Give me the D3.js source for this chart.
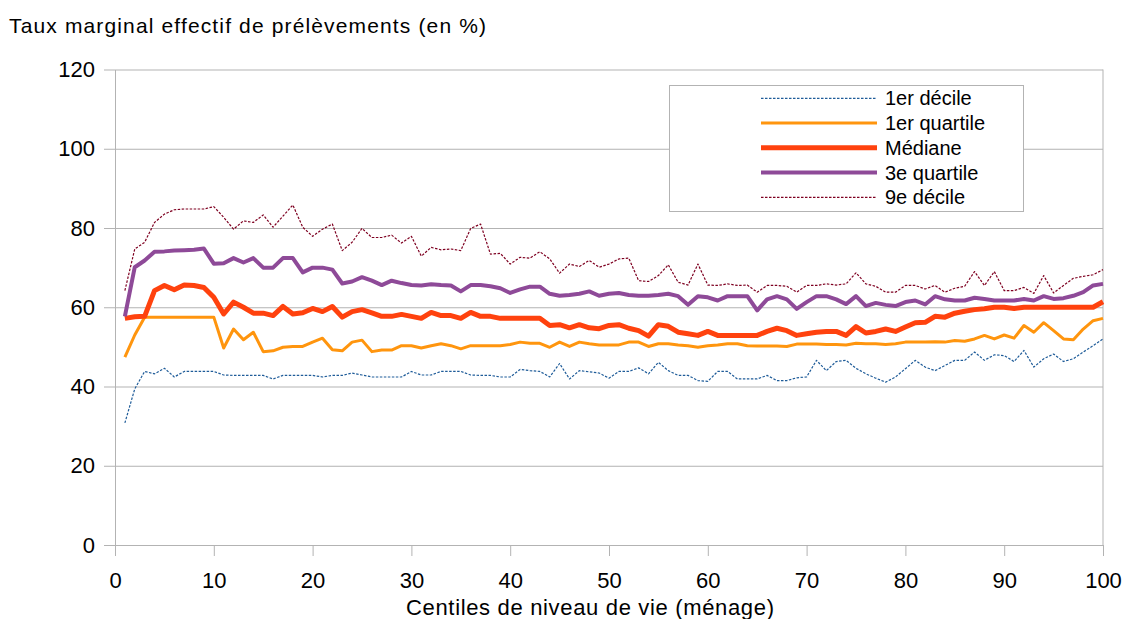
<!DOCTYPE html>
<html lang="fr">
<head>
<meta charset="utf-8">
<script src="https://cdn.jsdelivr.net/npm/d3@7"></script>
<style>
  html, body { margin: 0; padding: 0; background: #fff; }
  #viz { width: 1126px; height: 619px; }
  text { font-family: "Liberation Sans", Arial, sans-serif; fill: #000; }
</style>
</head>
<body>
<div id="viz"></div>
<script>
// Données (centiles 1 à 100)
const centiles = d3.range(1, 101);

const xTicks = [0, 10, 20, 30, 40, 50, 60, 70, 80, 90, 100];
const yTicks = [0, 20, 40, 60, 80, 100, 120];

const seriesNames = ["1er décile", "1er quartile", "Médiane", "3e quartile", "9e décile"];

const decile1 = [
  30.8, 39.4, 43.8, 43.2, 44.6, 42.4, 43.8, 43.8, 43.8, 43.8,
  42.9, 42.8, 42.8, 42.8, 42.8, 41.9, 42.8, 42.8, 42.8, 42.8,
  42.4, 42.8, 42.8, 43.4, 42.9, 42.4, 42.4, 42.4, 42.4, 43.8,
  42.9, 42.9, 43.8, 43.8, 43.8, 42.9, 42.8, 42.8, 42.4, 42.4,
  44.3, 44.0, 43.8, 42.4, 45.8, 41.9, 44.0, 43.7, 43.4, 42.1,
  43.8, 43.8, 44.7, 43.2, 46.1, 44.0, 42.8, 42.8, 41.5, 41.3,
  43.8, 43.8, 41.9, 41.9, 41.9, 42.8, 41.5, 41.5, 42.2, 42.4,
  46.6, 44.0, 46.3, 46.6, 44.6, 43.2, 42.1, 41.1, 42.4, 44.5,
  46.6, 44.9, 44.0, 45.3, 46.6, 46.6, 48.7, 46.6, 48.0, 47.8,
  46.3, 49.1, 44.9, 47.0, 48.2, 46.3, 47.0, 48.7, 50.3, 52.0
];

const quartile1 = [
  47.4, 53.0, 57.5, 57.5, 57.5, 57.5, 57.5, 57.5, 57.5, 57.5,
  49.7, 54.5, 51.8, 53.7, 48.8, 49.0, 49.9, 50.1, 50.1, 51.2,
  52.2, 49.3, 49.0, 51.2, 51.7, 48.8, 49.2, 49.2, 50.3, 50.3,
  49.7, 50.3, 50.8, 50.3, 49.5, 50.3, 50.3, 50.3, 50.3, 50.6,
  51.2, 50.9, 50.9, 49.9, 51.2, 50.1, 51.2, 50.8, 50.5, 50.5,
  50.5, 51.2, 51.2, 50.1, 50.8, 50.8, 50.5, 50.3, 49.9, 50.3,
  50.5, 50.8, 50.8, 50.3, 50.2, 50.2, 50.2, 50.1, 50.7, 50.7,
  50.7, 50.6, 50.6, 50.5, 50.9, 50.8, 50.8, 50.6, 50.8, 51.2,
  51.2, 51.2, 51.3, 51.2, 51.6, 51.4, 52.0, 52.9, 52.0, 53.0,
  52.2, 55.4, 53.7, 56.1, 54.1, 52.0, 51.8, 54.5, 56.6, 57.2
];

const mediane = [
  57.2, 57.6, 57.7, 64.2, 65.5, 64.4, 65.6, 65.5, 65.0, 62.5,
  58.3, 61.3, 60.0, 58.5, 58.5, 57.9, 60.2, 58.3, 58.6, 59.7,
  58.9, 60.2, 57.5, 58.9, 59.4, 58.6, 57.7, 57.7, 58.2, 57.7,
  57.2, 58.7, 57.9, 57.9, 57.2, 58.7, 57.7, 57.7, 57.2, 57.2,
  57.2, 57.2, 57.2, 55.4, 55.6, 54.8, 55.6, 54.8, 54.6, 55.4,
  55.6, 54.7, 54.1, 52.7, 55.6, 55.2, 53.7, 53.3, 52.9, 53.9,
  52.9, 52.9, 52.9, 52.9, 52.9, 53.9, 54.7, 54.1, 52.9, 53.3,
  53.7, 53.9, 53.9, 52.9, 55.1, 53.5, 53.9, 54.5, 53.9, 55.0,
  56.1, 56.2, 57.7, 57.5, 58.5, 59.0, 59.4, 59.6, 60.0, 60.0,
  59.7, 60.0, 60.0, 60.0, 60.0, 60.0, 60.0, 60.0, 60.0, 61.4
];

const quartile3 = [
  57.7, 70.1, 71.8, 74.0, 74.1, 74.3, 74.4, 74.5, 74.8, 71.0,
  71.1, 72.4, 71.3, 72.4, 70.0, 70.0, 72.4, 72.4, 68.8, 70.0,
  70.0, 69.5, 66.0, 66.5, 67.6, 66.7, 65.6, 66.7, 66.1, 65.6,
  65.5, 65.8, 65.6, 65.5, 64.0, 65.6, 65.6, 65.3, 64.8, 63.6,
  64.5, 65.2, 65.2, 63.4, 62.9, 63.1, 63.4, 64.0, 62.9, 63.4,
  63.6, 63.1, 62.9, 62.9, 63.1, 63.4, 62.8, 60.6, 62.8, 62.5,
  61.7, 62.8, 62.8, 62.8, 59.2, 62.0, 62.8, 62.0, 59.6, 61.3,
  62.8, 62.8, 62.0, 60.8, 62.8, 60.3, 61.1, 60.6, 60.3, 61.3,
  61.7, 60.7, 62.8, 62.0, 61.7, 61.7, 62.4, 62.1, 61.7, 61.7,
  61.7, 62.1, 61.7, 62.8, 62.1, 62.3, 62.9, 63.8, 65.5, 65.9
];

const decile9 = [
  64.2, 74.7, 76.4, 81.4, 83.5, 84.6, 84.8, 84.8, 84.8, 85.4,
  82.7, 79.7, 81.8, 81.4, 83.3, 80.2, 83.0, 85.8, 80.2, 77.9,
  79.7, 81.0, 74.3, 76.4, 79.9, 77.6, 77.6, 78.2, 76.2, 77.9,
  72.9, 75.1, 74.5, 74.7, 74.3, 79.9, 81.0, 73.4, 73.6, 70.9,
  72.6, 72.4, 74.0, 72.2, 68.6, 70.9, 70.3, 71.8, 70.1, 70.9,
  72.2, 72.4, 66.7, 66.5, 68.0, 70.7, 66.3, 65.6, 70.9, 65.6,
  65.5, 65.9, 65.5, 65.6, 63.8, 65.5, 65.5, 65.3, 63.8, 65.5,
  65.5, 65.9, 65.6, 65.9, 68.7, 65.9, 65.3, 63.8, 63.8, 65.5,
  65.5, 64.6, 65.5, 63.8, 64.8, 65.3, 69.0, 65.5, 69.0, 64.2,
  64.2, 65.0, 63.5, 68.0, 63.6, 65.5, 67.3, 67.8, 68.2, 69.5
];

(function(){

  // 1. Styles des séries (hors données)
  const styles = [
    { color: "#1f5c99", width: 1.2, dash: "2.5 1.5" },
    { color: "#ff950e", width: 3,   dash: null },
    { color: "#ff420e", width: 5,   dash: null },
    { color: "#8e4a98", width: 4,   dash: null },
    { color: "#7e0021", width: 1.2, dash: "2.5 1.5" }
  ];
  const values = [decile1, quartile1, mediane, quartile3, decile9];

  // 2. SVG
  const W = 1126, H = 619;
  const svg = d3.select("#viz").append("svg")
    .attr("width", W)
    .attr("height", H);

  // 3. Zone de tracé et échelles
  const plot = { left: 115, right: 1103, top: 69.5, bottom: 545 };
  const x = d3.scaleLinear().domain([0, 100]).range([plot.left, plot.right]);
  const y = d3.scaleLinear().domain([0, 120]).range([plot.bottom, plot.top]);
  const gridColor = "#b3b3b3";

  // 4. Grille horizontale
  svg.append("g")
    .attr("transform", `translate(${plot.left},0)`)
    .call(d3.axisRight(y).tickValues(yTicks).tickSize(plot.right - plot.left).tickFormat(""))
    .call(g => g.select(".domain").remove())
    .call(g => g.selectAll("line").attr("stroke", gridColor));

  // bord droit
  svg.append("line")
    .attr("x1", plot.right).attr("x2", plot.right)
    .attr("y1", plot.top).attr("y2", plot.bottom)
    .attr("stroke", gridColor);

  // 5. Axes
  svg.append("g")
    .attr("transform", `translate(${plot.left},0)`)
    .call(d3.axisLeft(y).tickValues(yTicks).tickSize(11).tickPadding(9).tickSizeOuter(0))
    .call(g => g.select(".domain").attr("stroke", gridColor))
    .call(g => g.selectAll("line").attr("stroke", gridColor))
    .call(g => g.selectAll("text")
      .attr("font-size", 22)
      .attr("font-family", "Liberation Sans, Arial, sans-serif")
      .attr("fill", "#000"));

  svg.append("g")
    .attr("transform", `translate(0,${plot.bottom})`)
    .call(d3.axisBottom(x).tickValues(xTicks).tickSize(11).tickSizeOuter(0))
    .call(g => g.select(".domain").attr("stroke", gridColor))
    .call(g => g.selectAll("line").attr("stroke", gridColor))
    .call(g => g.selectAll("text")
      .attr("y", 43)
      .attr("dy", null)
      .attr("font-size", 22)
      .attr("font-family", "Liberation Sans, Arial, sans-serif")
      .attr("fill", "#000"));

  // 6. Courbes
  const line = d3.line()
    .x((d, i) => x(centiles[i]))
    .y(d => y(d));

  values.forEach((vals, k) => {
    const s = styles[k];
    svg.append("path")
      .datum(vals)
      .attr("fill", "none")
      .attr("stroke", s.color)
      .attr("stroke-width", s.width)
      .attr("stroke-linejoin", "round")
      .attr("stroke-dasharray", s.dash)
      .attr("d", line);
  });

  // 7. Titres (largeurs calées sur l'original)
  svg.append("text")
    .attr("x", 9)
    .attr("y", 33)
    .attr("font-size", 21)
    .attr("textLength", 477)
    .attr("lengthAdjust", "spacing")
    .text("Taux marginal effectif de prélèvements (en %)");

  svg.append("text")
    .attr("x", 590)
    .attr("y", 615)
    .attr("text-anchor", "middle")
    .attr("font-size", 22)
    .attr("textLength", 368)
    .attr("lengthAdjust", "spacing")
    .text("Centiles de niveau de vie (ménage)");

  // 8. Légende
  const leg = svg.append("g");
  leg.append("rect")
    .attr("x", 669.5).attr("y", 85.5)
    .attr("width", 354).attr("height", 126)
    .attr("fill", "#fff")
    .attr("stroke", gridColor);

  seriesNames.forEach((name, k) => {
    const s = styles[k];
    const cy = 98.3 + k * 24.75;
    leg.append("line")
      .attr("x1", 761).attr("x2", 877)
      .attr("y1", cy).attr("y2", cy)
      .attr("stroke", s.color)
      .attr("stroke-width", s.width)
      .attr("stroke-dasharray", s.dash);
    leg.append("text")
      .attr("x", 885)
      .attr("y", cy + 7)
      .attr("font-size", 20)
      .text(name);
  });

})();
</script>
</body>
</html>
